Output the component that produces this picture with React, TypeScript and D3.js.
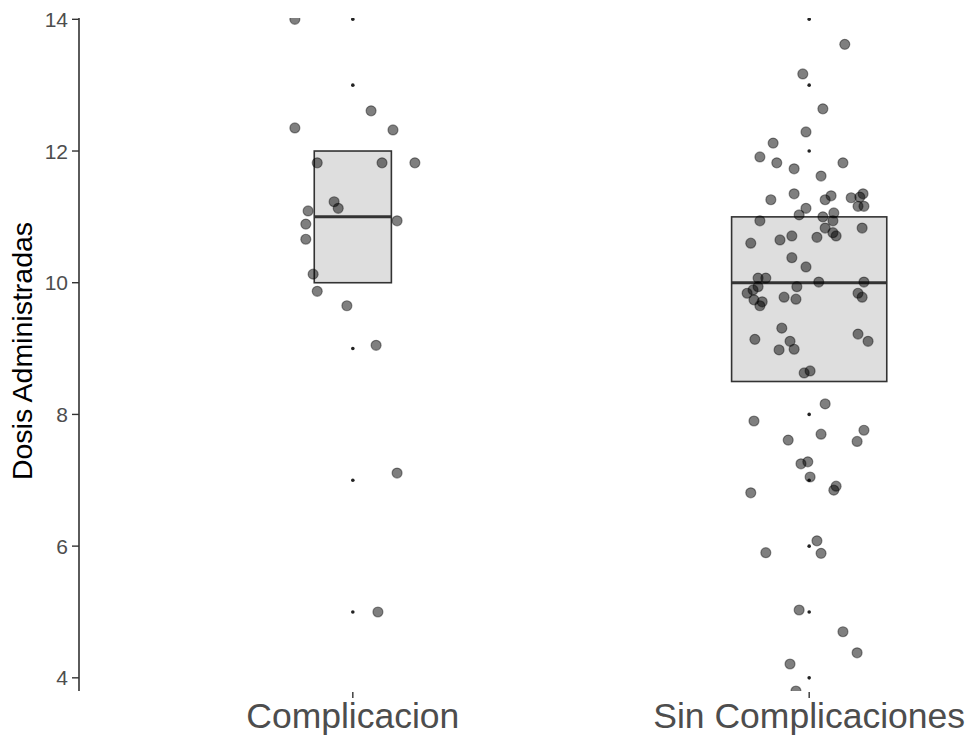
import React from "react";
import * as d3 from "d3";

// categories and boxplot summaries
const groups = ["Complicacion", "Sin Complicaciones"];
const q1 = [10, 8.5];
const medians = [11, 10];
const q3 = [12, 11];
const boxWidths = [0.169, 0.34]; // varwidth, in category units

// outliers drawn by the boxplot layer (small dots on the centre line)
const outliersComp = [14, 13, 9, 7, 5];
const outliersSin = [14, 13, 12, 8, 7, 6, 5, 4];

// jittered observations: values and horizontal jitter (category units)
const compValues = [14.0, 12.61, 12.35, 12.32, 11.82, 11.82, 11.82, 11.23, 11.13, 11.09, 10.94, 10.89, 10.66, 10.13, 9.87, 9.65, 9.05, 7.11, 5.0];
const compJitter = [-0.127, 0.04, -0.127, 0.088, -0.078, 0.064, 0.136, -0.041, -0.032, -0.098, 0.097, -0.103, -0.103, -0.087, -0.078, -0.013, 0.051, 0.097, 0.055];

const sinValues = [
  13.62, 13.17, 12.64, 12.29, 12.12, 11.91, 11.82, 11.73, 11.82, 11.62,
  11.35, 11.26, 11.26, 11.32, 11.29, 11.3, 11.35, 11.16, 11.16, 11.13,
  11.03, 11.06, 11.0, 10.94, 10.94, 10.83, 10.83, 10.6, 10.65, 10.71,
  10.69, 10.76, 10.71, 10.38, 10.24, 10.07, 10.07, 10.01, 10.01, 9.94,
  9.89, 9.84, 9.94, 9.74, 9.71, 9.65, 9.78, 9.75, 9.84, 9.78,
  9.31, 9.14, 9.11, 8.99, 8.98, 9.22, 9.11, 8.63, 8.66, 8.16,
  7.9, 7.7, 7.76, 7.59, 7.61, 7.25, 7.28, 7.05, 6.91, 6.85,
  6.81, 6.08, 5.89, 5.9, 5.03, 4.7, 4.38, 4.21, 3.8,
];
const sinJitter = [
  0.078, -0.014, 0.03, -0.007, -0.079, -0.108, -0.071, -0.033, 0.074, 0.026,
  -0.033, -0.084, 0.035, 0.048, 0.092, 0.111, 0.118, 0.107, 0.12, -0.007,
  -0.022, 0.054, 0.03, -0.108, 0.052, 0.035, 0.116, -0.128, -0.064, -0.038,
  0.017, 0.052, 0.059, -0.038, -0.007, -0.112, -0.095, 0.021, 0.12, -0.112,
  -0.123, -0.136, -0.027, -0.121, -0.103, -0.108, -0.055, -0.029, 0.107, 0.116,
  -0.06, -0.119, -0.042, -0.033, -0.066, 0.107, 0.129, -0.011, 0.002, 0.035,
  -0.121, 0.026, 0.12, 0.105, -0.046, -0.018, -0.003, 0.002, 0.059, 0.054,
  -0.128, 0.017, 0.026, -0.095, -0.022, 0.074, 0.105, -0.042, -0.029,
];

const yTicks = [4, 6, 8, 10, 12, 14];

const W = 968;
const H = 737;
const left = 79;
const top = 18;
const bottom = 691;

export default function App() {
  const x = d3.scalePoint<string>().domain(groups).range([left, 1083]).padding(0.6);
  const step = x.step();
  const y = d3.scaleLinear().domain([3.8, 14.02]).range([bottom, top]);

  const outliers = [outliersComp, outliersSin];
  const values = [compValues, sinValues];
  const jitter = [compJitter, sinJitter];

  return (
    <svg width={W} height={H} style={{ position: "absolute", left: 0, top: 0, background: "#fff" }}
      fontFamily="'Liberation Sans', Arial, sans-serif">
      <defs>
        <clipPath id="panel">
          <rect x={left} y={top} width={W - left} height={bottom - top} />
        </clipPath>
      </defs>

      <g clipPath="url(#panel)">
        {groups.map((g, i) => {
          const cx = x(g)!;
          const bw = boxWidths[i] * step;
          return (
            <g key={g}>
              <rect x={cx - bw / 2} y={y(q3[i])} width={bw} height={y(q1[i]) - y(q3[i])}
                fill="#dedede" stroke="#333" strokeWidth={1.6} />
              <line x1={cx - bw / 2} x2={cx + bw / 2} y1={y(medians[i])} y2={y(medians[i])}
                stroke="#333" strokeWidth={3} />
              {outliers[i].map((v, j) => (
                <circle key={j} cx={cx} cy={y(v)} r={1.8} fill="#222" />
              ))}
            </g>
          );
        })}
        {groups.map((g, i) =>
          values[i].map((v, j) => (
            <circle key={g + j} cx={x(g)! + jitter[i][j] * step} cy={y(v)} r={5}
              fill="#000" fillOpacity={0.5} stroke="#000" strokeOpacity={0.4} strokeWidth={1.2} />
          ))
        )}
      </g>

      {/* y axis */}
      <line x1={left} x2={left} y1={top} y2={bottom} stroke="#333" strokeWidth={1.6} />
      {yTicks.map(t => (
        <g key={t} transform={`translate(0,${y(t)})`}>
          <line x1={left - 7} x2={left} stroke="#333" strokeWidth={1.4} />
          <text x={left - 11} dy="0.36em" textAnchor="end" fontSize={21} fill="#4d4d4d">{t}</text>
        </g>
      ))}

      {/* x axis ticks and labels, no axis line */}
      {groups.map(g => (
        <g key={g} transform={`translate(${x(g)},0)`}>
          <line y1={bottom + 1} y2={bottom + 7} stroke="#333" strokeWidth={1.4} />
          <text y={728} textAnchor="middle" fontSize={35.5} fill="#4d4d4d">{g}</text>
        </g>
      ))}

      <text transform="translate(32,351) rotate(-90)" textAnchor="middle" fontSize={28.5} fill="#000">
        Dosis Administradas
      </text>
    </svg>
  );
}
